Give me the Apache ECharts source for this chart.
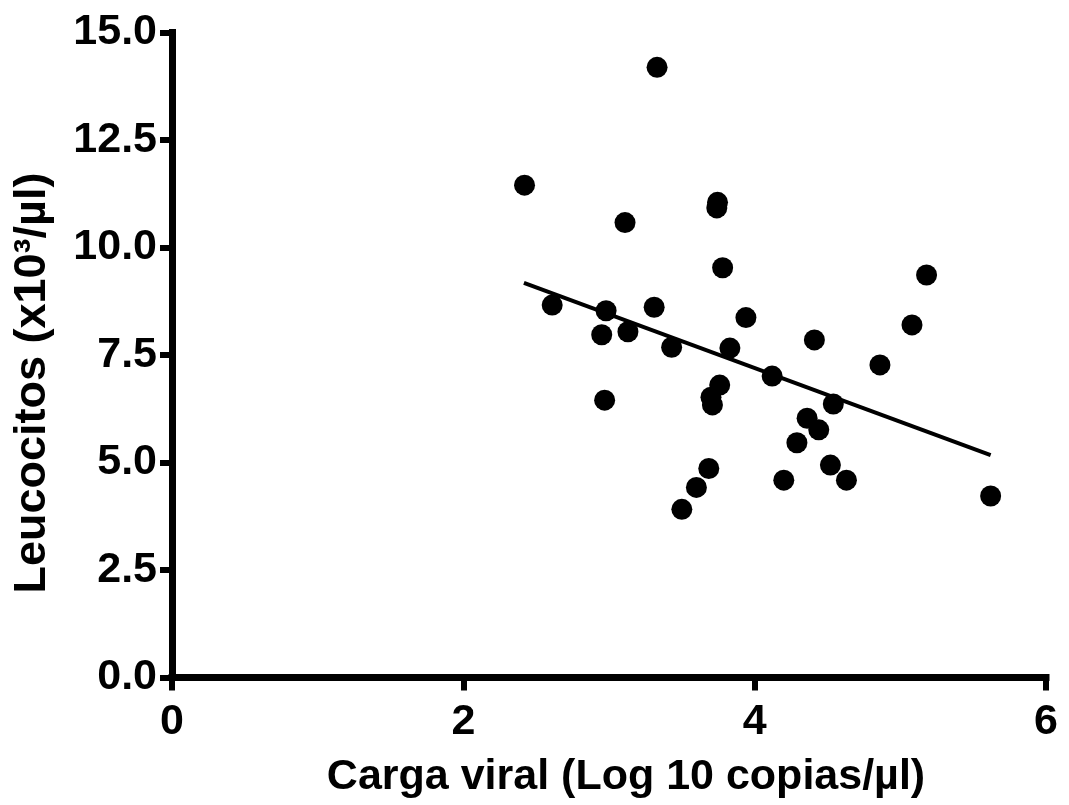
<!DOCTYPE html>
<html>
<head>
<meta charset="utf-8">
<script src="https://cdn.jsdelivr.net/npm/echarts@6/dist/echarts.min.js"></script>
<style>
html,body{margin:0;padding:0;background:#fff;}
#c{width:1069px;height:805px;}
</style>
</head>
<body>
<div id="c"></div>
<script>
// Carga viral (log10 copias/µl)
const viralLoad = [2.42, 3.33, 3.11, 3.74, 3.745, 3.78, 3.94, 2.61, 2.98, 2.95, 3.13, 3.31, 3.43, 3.83, 3.76, 3.70, 3.71, 2.97, 3.685, 3.60, 3.50, 5.18, 5.08, 4.41, 4.86, 4.12, 4.54, 4.36, 4.44, 4.29, 4.52, 4.63, 4.20, 5.62];
// Leucocitos (x10^3/µl)
const leukocytes = [11.45, 14.19, 10.58, 10.92, 11.05, 9.53, 8.37, 8.66, 8.53, 7.97, 8.04, 8.61, 7.68, 7.66, 6.80, 6.52, 6.34, 6.45, 4.86, 4.42, 3.91, 9.36, 8.20, 7.85, 7.27, 7.01, 6.36, 6.03, 5.76, 5.46, 4.94, 4.59, 4.59, 4.22];
// Regression line endpoints
const fitX = [2.416, 5.62];
const fitY = [9.18, 5.17];
// Axis ticks
const xTicks = [0, 2, 4, 6];
const yTicks = [0, 2.5, 5, 7.5, 10, 12.5, 15];

const points = viralLoad.map((x, i) => [x, leukocytes[i]]);
const fitLine = fitX.map((x, i) => [x, fitY[i]]);

const chart = echarts.init(document.getElementById('c'), null, {renderer: 'canvas'});
const font = 'Liberation Sans, Arial, Helvetica, sans-serif';
chart.setOption({
  backgroundColor: '#ffffff',
  animation: false,
  grid: {left: 172, right: 23, top: 32.5, bottom: 127.5, containLabel: false},
  xAxis: {
    type: 'value',
    min: xTicks[0], max: xTicks[xTicks.length - 1], interval: 2,
    name: 'Carga viral (Log 10 copias/µl)',
    nameLocation: 'middle', nameGap: 78,
    nameTextStyle: {fontFamily: font, fontWeight: 'bold', fontSize: 43, color: '#000', padding: [0, 0, 0, 34]},
    axisLine: {show: true, onZero: false, lineStyle: {color: '#000', width: 7, cap: 'square'}},
    axisTick: {show: true, length: 13, lineStyle: {color: '#000', width: 6}},
    axisLabel: {margin: 23, fontFamily: font, fontWeight: 'bold', fontSize: 43, color: '#000'},
    splitLine: {show: false}
  },
  yAxis: {
    type: 'value',
    min: yTicks[0], max: yTicks[yTicks.length - 1], interval: 2.5,
    name: 'Leucocitos (x10³/µl)',
    nameLocation: 'middle', nameGap: 117,
    nameTextStyle: {fontFamily: font, fontWeight: 'bold', fontSize: 45, color: '#000', padding: [0, 56, 0, 0]},
    axisLine: {show: true, onZero: false, lineStyle: {color: '#000', width: 7, cap: 'square'}},
    axisTick: {show: true, length: 12, lineStyle: {color: '#000', width: 6}},
    axisLabel: {margin: 15, fontFamily: font, fontWeight: 'bold', fontSize: 43, color: '#000',
      formatter: v => v.toFixed(1)},
    splitLine: {show: false}
  },
  series: [
    {
      type: 'scatter',
      data: points,
      symbol: 'circle',
      symbolSize: 21,
      itemStyle: {color: '#000', opacity: 1},
      z: 3
    },
    {
      type: 'line',
      data: fitLine,
      symbol: 'none',
      lineStyle: {color: '#000', width: 4},
      z: 4
    }
  ]
});
</script>
</body>
</html>
